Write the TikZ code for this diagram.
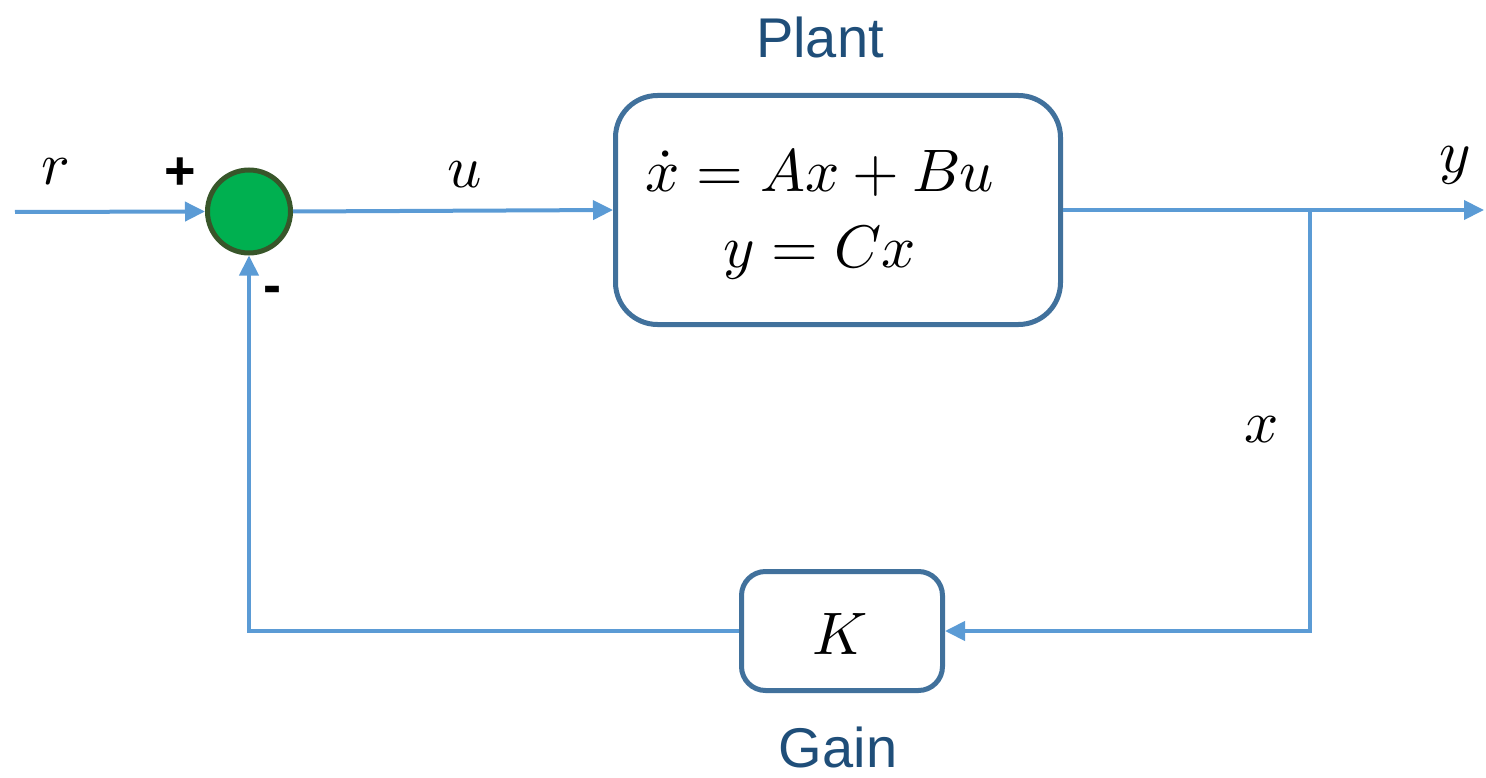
\documentclass[tikz,border=0pt]{standalone}
\usepackage{fontspec}
\usepackage{unicode-math}
\setmainfont{Liberation Sans}
\setmathfont{Latin Modern Math}
\usetikzlibrary{arrows.meta}
\definecolor{wire}{HTML}{5B9BD5}
\definecolor{boxline}{HTML}{41719C}
\definecolor{sumfill}{HTML}{00B050}
\definecolor{sumline}{HTML}{38562A}
\definecolor{titlec}{HTML}{1F4E79}
\begin{document}
\begin{tikzpicture}[x=1pt,y=-1pt,
  wirestyle/.style={draw=wire,line width=4pt},
  arr/.style={-{Triangle[length=20pt,width=19pt]}},
  block/.style={draw=boxline,line width=5pt,fill=white,inner sep=0pt},
  mathlbl/.style={font=\fontsize{60}{72}\selectfont,inner sep=0pt},
  signlbl/.style={font=\fontsize{54}{60}\selectfont\bfseries,inner sep=0pt},
  titlelbl/.style={font=\fontsize{56}{66}\selectfont,text=titlec,inner sep=0pt}]
\useasboundingbox (0,0) rectangle (1486,778);
% blocks
\node[block,rounded corners=42pt,minimum width=445pt,minimum height=229pt] (plant) at (838,210) {};
\node[block,rounded corners=24pt,minimum width=201pt,minimum height=119pt] (gain) at (842,631) {};
\node[circle,draw=sumline,fill=sumfill,line width=5pt,minimum size=83pt,inner sep=0pt] (sum) at (249,211.5) {};
% texts
\node[mathlbl,align=center,font=\fontsize{60}{76}\selectfont] (eq) at (820,214) {$\dot{x} = Ax + Bu$\\$y = Cx$};
\node[mathlbl] (klbl) at (840,634) {$K$};
\node[titlelbl] (plantlbl) at (820,37) {Plant};
\node[titlelbl] (gainlbl) at (838,747) {Gain};
\node[mathlbl] (rlbl) at (55,172) {$r$};
\node[mathlbl] (ulbl) at (465,175) {$u$};
\node[mathlbl] (ylbl) at (1455,165) {$y$};
\node[mathlbl] (xlbl) at (1262,430) {$x$};
\node[signlbl] (plus) at (180,174) {+};
\node[signlbl] (minus) at (272,295) {-};
% connectors
\coordinate (in) at (15,212);
\coordinate (out) at (1484,210);
\coordinate (br) at (1310,210);
\draw[wirestyle,arr] (in) -- (sum.west);
\draw[wirestyle,arr] (sum.east) -- (plant.west);
\draw[wirestyle,arr] (plant.east) -- (out);
\draw[wirestyle,arr] (br) |- (gain.east);
\draw[wirestyle,arr] (gain.west) -| (sum.south);
\end{tikzpicture}
\end{document}
